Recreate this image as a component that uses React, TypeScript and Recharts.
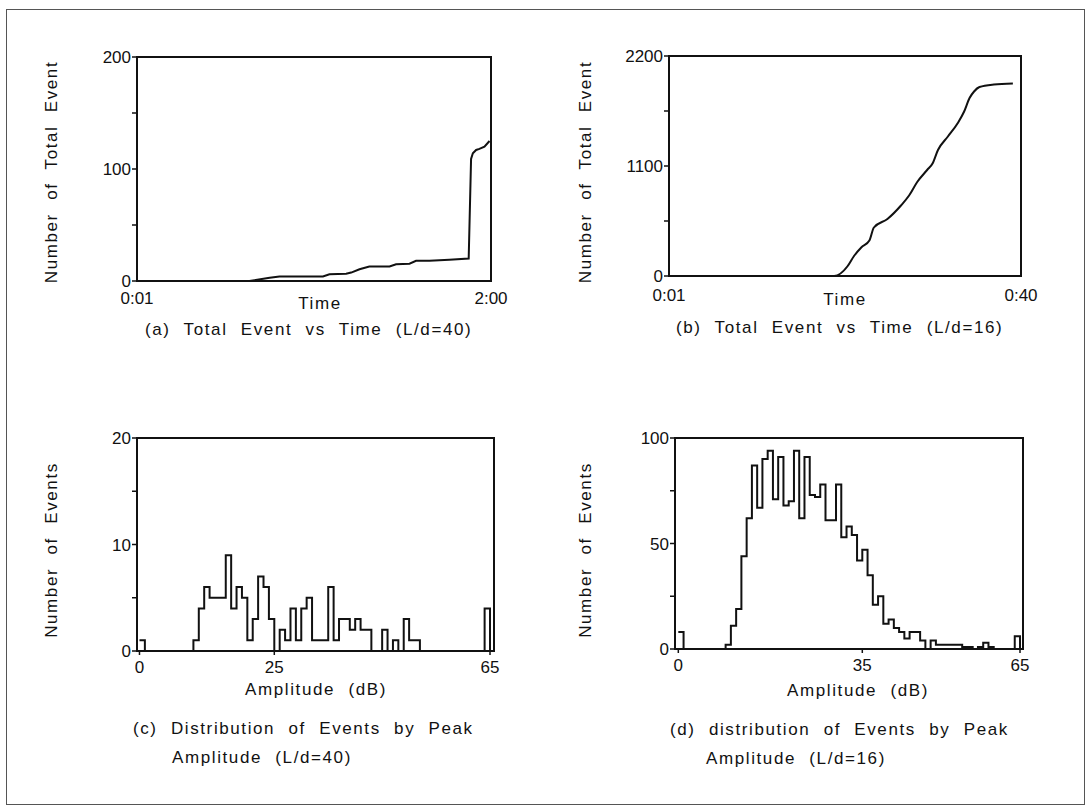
import React from "react";
import { LineChart, Line, XAxis, YAxis } from "recharts";

// (a) L/d=40 : cumulative events, time in minutes
const timeA = [1, 38.8, 45.6, 48.9, 56.7, 63.5, 65.7, 71.3, 73, 75.8, 79.1, 85.9, 88.1, 92.6, 94.8, 99.3, 106, 112.5, 113.3, 113.9, 115, 116.1, 117.8, 119.5];
const totalA = [0, 0, 3, 4, 4, 4, 6, 6.5, 7.5, 10.5, 13, 13, 15, 15.5, 18, 18, 19, 20, 109, 114, 117, 118, 120, 125];

// (b) L/d=16
const timeB = [1, 19.3, 20.8, 21.5, 22.3, 23.2, 23.7, 25.2, 26.7, 27.6, 28.5, 29.6, 30.2, 30.8, 31.9, 33, 33.7, 34.3, 34.8, 35.4, 37, 39.1];
const totalB = [0, 0, 100, 200, 285, 355, 485, 570, 705, 805, 940, 1060, 1125, 1260, 1395, 1530, 1645, 1780, 1845, 1890, 1915, 1925];

// (c) counts per 1 dB bin, 0..64
const countsC = [
  1, 0, 0, 0, 0, 0, 0, 0, 0, 0,
  1, 4, 6, 5, 5, 5, 9, 4, 6, 5,
  1, 3, 7, 6, 3, 0, 2, 1, 4, 1,
  4, 5, 1, 1, 1, 6, 1, 3, 3, 2,
  3, 2, 2, 0, 0, 2, 0, 1, 0, 3,
  1, 1, 0, 0, 0, 0, 0, 0, 0, 0,
  0, 0, 0, 0, 4,
];

// (d)
const countsD = [
  8, 0, 0, 0, 0, 0, 0, 0, 0, 2,
  11, 19, 44, 62, 87, 67, 90, 94, 71, 91,
  68, 70, 94, 62, 91, 73, 72, 78, 61, 61,
  78, 53, 58, 54, 42, 47, 35, 21, 25, 12,
  14, 10, 8, 5, 8, 8, 4, 0, 4, 2,
  2, 2, 2, 2, 1, 1, 0, 1, 3, 1,
  0, 0, 0, 0, 6,
];

const yTicksA = [0, 50, 100, 150, 200];
const yLabelsA = [0, 100, 200];
const yTicksB = [0, 550, 1100, 1650, 2200];
const yLabelsB = [0, 1100, 2200];
const yTicksC = [0, 5, 10, 15, 20];
const yLabelsC = [0, 10, 20];
const yTicksD = [0, 25, 50, 75, 100];
const yLabelsD = [0, 50, 100];
const xTicksA = [1, 120];
const xTicksB = [1, 40];
const xTicksC = [0, 25, 65];
const xTicksD = [0, 35, 65];

const FONT = "'Liberation Sans', Arial, sans-serif";
const INK = "#111";

const lineData = (xs: number[], ys: number[]) => xs.map((x, i) => ({ x, y: ys[i] }));
// step outline: each bin drawn from its lower edge, closed at the top edge
const histData = (counts: number[]) => [
  ...counts.map((c, i) => ({ x: i, y: c })),
  { x: counts.length, y: 0 },
];

const clock = (m: number) => `${Math.floor(m / 60)}:${String(m % 60).padStart(2, "0")}`;

type Box = { left: number; top: number; width: number; height: number };

function Panel(props: {
  box: Box;
  data: { x: number; y: number }[];
  xDomain: [number, number];
  yDomain: [number, number];
  xTicks: number[];
  yTicks: number[];
  yLabels: number[];
  xFmt?: (v: number) => string;
  xTickLine?: boolean;
  xOffset: number;
  curve: "linear" | "monotone" | "stepAfter";
}) {
  const { box } = props;
  const tickStyle = { fontSize: 17, fill: INK, fontFamily: FONT };
  return (
    <>
      <div style={{ position: "absolute", left: box.left - 60, top: box.top - 10 }}>
        <LineChart
          width={box.width + 100}
          height={box.height + 50}
          data={props.data}
          margin={{ top: 10, right: 40, left: 0, bottom: 0 }}
        >
          <XAxis
            dataKey="x"
            type="number"
            domain={props.xDomain}
            ticks={props.xTicks}
            interval={0}
            allowDataOverflow
            height={40}
            axisLine={false}
            tickLine={props.xTickLine ? { stroke: INK, strokeWidth: 1.5 } : false}
            tickSize={4}
            tickMargin={props.xOffset}
            tick={tickStyle}
            tickFormatter={props.xFmt ?? ((v: number) => String(v))}
          />
          <YAxis
            type="number"
            domain={props.yDomain}
            ticks={props.yTicks}
            interval={0}
            allowDataOverflow
            width={60}
            axisLine={false}
            tickLine={{ stroke: INK, strokeWidth: 1.5 }}
            tickSize={5}
            tickMargin={1}
            tick={tickStyle}
            tickFormatter={(v: number) => (props.yLabels.includes(v) ? String(v) : "")}
          />
          <Line
            dataKey="y"
            type={props.curve}
            stroke={INK}
            strokeWidth={2}
            dot={false}
            isAnimationActive={false}
          />
        </LineChart>
      </div>
      <div
        style={{
          position: "absolute",
          left: box.left - 1,
          top: box.top - 1,
          width: box.width + 2,
          height: box.height + 2,
          border: `2.5px solid ${INK}`,
          boxSizing: "border-box",
          pointerEvents: "none",
        }}
      />
    </>
  );
}

const textStyle: React.CSSProperties = {
  position: "absolute",
  fontFamily: FONT,
  fontSize: 17,
  letterSpacing: 1.6,
  wordSpacing: 7,
  color: INK,
  whiteSpace: "nowrap",
  lineHeight: "20px",
};

function Centered({ x, y, text, rotate }: { x: number; y: number; text: string; rotate?: boolean }) {
  return (
    <div
      style={{
        ...textStyle,
        left: x,
        top: y,
        transform: `translate(-50%, -50%)${rotate ? " rotate(-90deg)" : ""}`,
      }}
    >
      {text}
    </div>
  );
}

function LeftText({ x, y, text }: { x: number; y: number; text: string }) {
  return <div style={{ ...textStyle, left: x, top: y - 10 }}>{text}</div>;
}

export default function App() {
  return (
    <div style={{ position: "absolute", left: 0, top: 0, width: 1092, height: 810, background: "#fff", overflow: "hidden" }}>
      <div style={{ position: "absolute", left: 6, top: 9, width: 1079, height: 796, border: "1px solid #555", boxSizing: "border-box" }} />

      <Panel
        box={{ left: 137, top: 57, width: 354, height: 224 }}
        data={lineData(timeA, totalA)}
        xDomain={[1, 120]}
        yDomain={[0, 200]}
        xTicks={xTicksA}
        yTicks={yTicksA}
        yLabels={yLabelsA}
        xFmt={clock}
        xOffset={7}
        curve="linear"
      />
      <Panel
        box={{ left: 669, top: 56, width: 352, height: 220 }}
        data={lineData(timeB, totalB)}
        xDomain={[1, 40]}
        yDomain={[0, 2200]}
        xTicks={xTicksB}
        yTicks={yTicksB}
        yLabels={yLabelsB}
        xFmt={clock}
        xOffset={9}
        curve="monotone"
      />
      <Panel
        box={{ left: 137, top: 438, width: 357, height: 213 }}
        data={histData(countsC)}
        xDomain={[-0.46, 65.74]}
        yDomain={[0, 20]}
        xTicks={xTicksC}
        yTicks={yTicksC}
        yLabels={yLabelsC}
        xTickLine
        xOffset={6}
        curve="stepAfter"
      />
      <Panel
        box={{ left: 675, top: 438, width: 348, height: 211 }}
        data={histData(countsD)}
        xDomain={[-0.63, 65.57]}
        yDomain={[0, 100]}
        xTicks={xTicksD}
        yTicks={yTicksD}
        yLabels={yLabelsD}
        xTickLine
        xOffset={6}
        curve="stepAfter"
      />

      <Centered x={52} y={172} text="Number of Total Event" rotate />
      <Centered x={586} y={172} text="Number of Total Event" rotate />
      <Centered x={52} y={550} text="Number of Events" rotate />
      <Centered x={586} y={550} text="Number of Events" rotate />

      <Centered x={320} y={304} text="Time" />
      <Centered x={845} y={300} text="Time" />
      <Centered x={316} y={690} text="Amplitude (dB)" />
      <Centered x={858} y={691} text="Amplitude (dB)" />

      <LeftText x={145} y={330} text="(a) Total Event vs Time (L/d=40)" />
      <LeftText x={676} y={328} text="(b) Total Event vs Time (L/d=16)" />
      <LeftText x={133} y={729} text="(c) Distribution of Events by Peak" />
      <LeftText x={172} y={758} text="Amplitude (L/d=40)" />
      <LeftText x={670} y={730} text="(d) distribution of Events by Peak" />
      <LeftText x={706} y={759} text="Amplitude (L/d=16)" />
    </div>
  );
}
